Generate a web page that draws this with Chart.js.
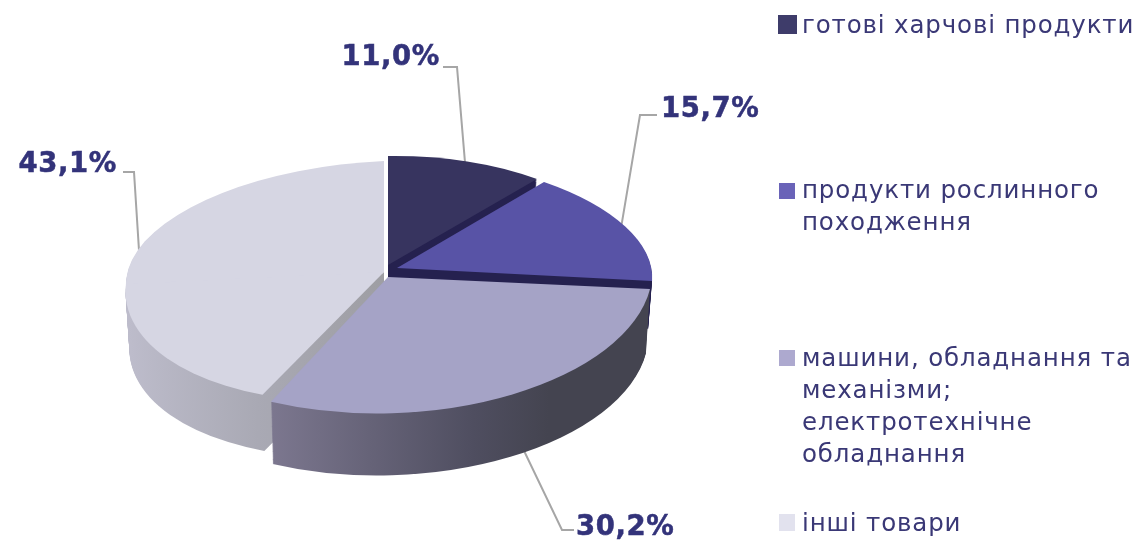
<!DOCTYPE html>
<html><head><meta charset="utf-8">
<style>html,body{margin:0;padding:0;background:#fff;overflow:hidden}canvas{display:block}</style>
<script src="https://cdn.jsdelivr.net/npm/chart.js@4/dist/chart.umd.min.js"></script>
</head><body><canvas id="c" width="1137" height="540"></canvas>
<script>
// ---- data ----
const categories = ['готові харчові продукти', 'продукти рослинного походження', 'машини, обладнання та механізми; електротехнічне обладнання', 'інші товари'];
const values = [11.0, 15.7, 30.2, 43.1];
const valueLabels = ['11,0%', '15,7%', '30,2%', '43,1%'];
const legendLines = [['готові харчові продукти'], ['продукти рослинного', 'походження'], ['машини, обладнання та', 'механізми;', 'електротехнічне', 'обладнання'], ['інші товари']];

// ---- styles ----
const topColors = ['#37345f', '#5853a6', '#a5a3c6', '#d6d6e3'];
const swatchColors = ['#3e3c6a', '#6a63b8', '#ada9cf', '#e2e2ee'];
const sideStops = [
  [[0, '#25214f'], [1, '#25214f']],
  [[0, '#25214f'], [1, '#25214f']],
  [[0, '#7d7890'], [0.55, '#4f4e60'], [0.75, '#444450'], [1, '#444450']],
  [[0, '#bdbccb'], [0.55, '#a9a9b4'], [1, '#9e9ea3']]
];
const sideRange = [[388, 540], [397, 652], [272, 650], [130, 384]];
// Per-slice projection of the flat pie onto the tilted 3D look.
const R = 262;
const projection = [
  { apex: [388, 265], depth: 30, pieces: [{ m: [0.892, -0.012, 0, 0.416] }] },
  { apex: [397, 268], depth: 48, pieces: [{ m: [0.971, 0.004, 0.075, 0.429] }] },
  { apex: [388, 277], depth: 64, pieces: [{ m: [1.0085, -0.0097, -0.0256, 0.5207] }] },
  { apex: [384, 272], depth: 58, pieces: [
      { m: [0.985, -0.046, 0, 0.424], clip: 'up' },
      { m: [0.985, -0.046, -0.055, 0.4955], clip: 'down' }] }
];
const drawOrder = [0, 1, 3, 2];
const shrink = 0.015;
const leaderCfg = [
  { elbow: [457, 67], tail: [443, 67], nudge: [-2, 3], text: [440, 65], align: 'right' },
  { elbow: [640, 115], tail: [657, 115], nudge: [-5, 6], text: [661, 117], align: 'left' },
  { elbow: [562, 530], tail: [574, 530], nudge: [0, 32], text: [576, 535], align: 'left' },
  { elbow: [134, 172], tail: [123, 172], nudge: [7, -10], text: [117, 172], align: 'right' }
];
const legendCfg = [
  { box: [778, 15, 19, 19], y: [27] },
  { box: [779, 183, 16, 16], y: [192, 224] },
  { box: [779, 350, 16, 16], y: [360, 392, 424, 456] },
  { box: [779, 514, 16, 17], y: [525] }
];

function setMatrix(ctx, arc, cfg, piece, t) {
  const [a, b, c, d] = piece.m;
  const s = 1 - shrink * t;
  ctx.translate(cfg.apex[0], cfg.apex[1] + t * cfg.depth);
  ctx.scale(s, s);
  ctx.transform(a, b, c, d, 0, 0);
  ctx.translate(-arc.x, -arc.y);
}
function clipPiece(ctx, arc, piece) {
  if (!piece.clip) return;
  ctx.beginPath();
  if (piece.clip === 'up') ctx.rect(arc.x - 400, arc.y - 400, 800, 404);
  else ctx.rect(arc.x - 400, arc.y, 800, 400);
  ctx.clip();
}
function drawArcWith(ctx, arc, fill) {
  const orig = arc.options;
  arc.options = Object.assign({}, orig, { backgroundColor: fill });
  arc.draw(ctx);
  arc.options = orig;
}

const pie3d = {
  id: 'pie3d',
  beforeDatasetDraw(chart) {
    const ctx = chart.ctx;
    const arcs = chart.getDatasetMeta(0).data;
    // leader lines sit behind the pie
    arcs.forEach((arc, i) => {
      const cfg = projection[i], lc = leaderCfg[i];
      const mid = (arc.startAngle + arc.endAngle) / 2;
      const lx = Math.cos(mid) * arc.outerRadius, ly = Math.sin(mid) * arc.outerRadius;
      const piece = cfg.pieces[ly < 0 ? 0 : cfg.pieces.length - 1];
      const [a, b, c, d] = piece.m;
      const px = cfg.apex[0] + a * lx + c * ly + lc.nudge[0];
      const py = cfg.apex[1] + b * lx + d * ly + lc.nudge[1];
      ctx.save();
      ctx.strokeStyle = '#a6a6a6';
      ctx.lineWidth = 2;
      ctx.beginPath();
      ctx.moveTo(px, py);
      ctx.lineTo(lc.elbow[0], lc.elbow[1]);
      ctx.lineTo(lc.tail[0], lc.tail[1]);
      ctx.stroke();
      ctx.restore();
    });
    drawOrder.forEach(i => {
      const arc = arcs[i], cfg = projection[i];
      cfg.pieces.forEach(piece => {
        const a = piece.m[0];
        const toLocal = x => arc.x + (x - cfg.apex[0]) / a;
        const g = ctx.createLinearGradient(toLocal(sideRange[i][0]), 0, toLocal(sideRange[i][1]), 0);
        sideStops[i].forEach(s => g.addColorStop(s[0], s[1]));
        for (let k = cfg.depth; k >= 1; k--) {
          ctx.save();
          setMatrix(ctx, arc, cfg, piece, k / cfg.depth);
          clipPiece(ctx, arc, piece);
          drawArcWith(ctx, arc, g);
          ctx.restore();
        }
      });
      cfg.pieces.forEach(piece => {
        ctx.save();
        setMatrix(ctx, arc, cfg, piece, 0);
        clipPiece(ctx, arc, piece);
        arc.draw(ctx);
        ctx.restore();
      });
    });
    return false;
  },
  afterDraw(chart) {
    const ctx = chart.ctx;
    ctx.save();
    // value labels
    ctx.font = 'bold 27.5px "DejaVu Sans"';
    ctx.letterSpacing = '0.6px';
    ctx.fillStyle = '#33337a';
    ctx.strokeStyle = '#33337a';
    ctx.lineWidth = 0.5;
    ctx.textBaseline = 'alphabetic';
    valueLabels.forEach((t, i) => {
      ctx.textAlign = leaderCfg[i].align;
      ctx.fillText(t, leaderCfg[i].text[0], leaderCfg[i].text[1]);
      ctx.strokeText(t, leaderCfg[i].text[0], leaderCfg[i].text[1]);
    });
    // legend
    ctx.font = '24.5px "DejaVu Sans"';
    ctx.letterSpacing = '0.85px';
    ctx.textAlign = 'left';
    ctx.textBaseline = 'middle';
    legendLines.forEach((lines, i) => {
      const lg = legendCfg[i];
      ctx.fillStyle = swatchColors[i];
      ctx.fillRect(lg.box[0], lg.box[1], lg.box[2], lg.box[3]);
      ctx.fillStyle = '#3a3876';
      lines.forEach((t, j) => ctx.fillText(t, 802, lg.y[j]));
    });
    ctx.restore();
  }
};

new Chart(document.getElementById('c'), {
  type: 'pie',
  data: { labels: categories, datasets: [{ data: values, backgroundColor: topColors, borderWidth: 0, offset: 0 }] },
  options: {
    responsive: false,
    animation: false,
    radius: R,
    rotation: 0,
    layout: { padding: 0 },
    plugins: { legend: { display: false }, tooltip: { enabled: false }, title: { display: false } }
  },
  plugins: [pie3d]
});
</script></body></html>
